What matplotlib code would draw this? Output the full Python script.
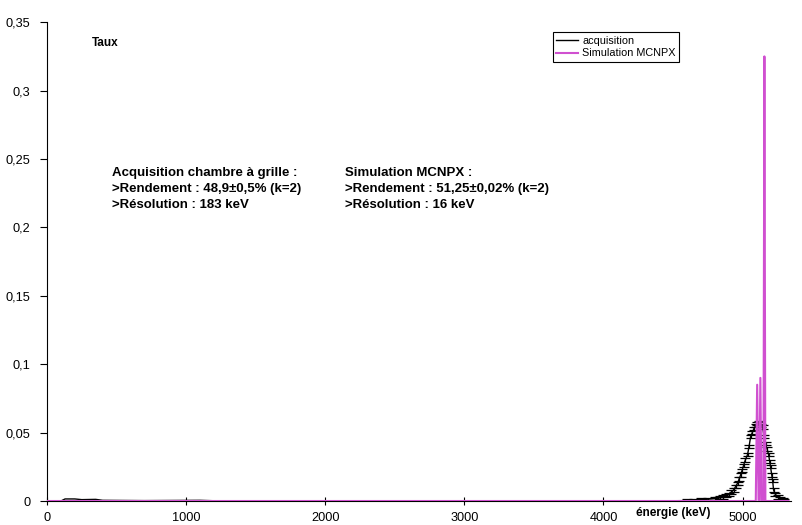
import matplotlib
matplotlib.use("Agg")
import matplotlib.pyplot as plt
from matplotlib.ticker import FuncFormatter

plt.rcParams['font.family'] = ['Liberation Sans', 'DejaVu Sans']

# Acquisition (chambre à grille) spectrum
acq_energy = [0, 100, 130, 200, 250, 350, 400, 700, 1100, 1200, 2000, 3000, 4000, 4500,
              4600, 4650, 4700, 4750, 4800, 4820, 4840, 4860, 4880, 4900, 4920, 4935,
              4950, 4964, 4975, 4986, 4997, 5007, 5020, 5036, 5047, 5058, 5070, 5082,
              5094, 5105, 5115, 5125, 5135, 5144, 5155, 5165, 5176, 5187, 5195, 5201,
              5210, 5216, 5223, 5235, 5252, 5270, 5288, 5300]
acq_rate = [0.0, 0.0, 0.0015, 0.0015, 0.001, 0.0012, 0.0005, 0.0003, 0.0005, 0.0002, 0.0002,
            0.0002, 0.0002, 0.0002,
            0.0003, 0.0005, 0.001, 0.0013, 0.0018, 0.002, 0.0025, 0.003, 0.004, 0.005,
            0.0065, 0.008, 0.0105, 0.013, 0.016, 0.019, 0.0225, 0.026, 0.030, 0.034,
            0.040, 0.047, 0.050, 0.053, 0.055, 0.0565, 0.057, 0.0565, 0.055, 0.054,
            0.047, 0.042, 0.038, 0.034, 0.029, 0.025, 0.019, 0.015, 0.008, 0.005,
            0.003, 0.0015, 0.001, 0.0005]
acq_err = 0.0012

# MCNPX simulation spectrum
sim_energy = [0, 5095, 5105, 5115, 5120, 5128, 5136, 5150, 5157, 5164, 5330]
sim_rate = [0.0, 0.0, 0.085, 0.0, 0.0, 0.09, 0.0, 0.0, 0.325, 0.0, 0.0]

x_ticks = [0, 1000, 2000, 3000, 4000, 5000]
y_ticks = [0, 0.05, 0.1, 0.15, 0.2, 0.25, 0.3, 0.35]

fig = plt.figure(figsize=(8.03, 5.25), dpi=100)
ax = fig.add_axes([0.0585, 0.0457, 0.926, 0.912])

err_mask = [e >= 4600 for e in acq_energy]
ax.plot(acq_energy, acq_rate, color='black', lw=1.0, label='acquisition', zorder=3)
ax.errorbar([e for e, m in zip(acq_energy, err_mask) if m],
            [r for r, m in zip(acq_rate, err_mask) if m],
            yerr=acq_err, fmt='none', ecolor='black', elinewidth=0.9,
            capsize=3.5, capthick=0.9, zorder=3)
ax.plot(sim_energy, sim_rate, color='#d050d0', lw=1.5, label='Simulation MCNPX', zorder=4)

ax.set_xlim(0, 5345)
ax.set_ylim(0, 0.35)
ax.set_xticks(x_ticks)
ax.set_yticks(y_ticks)
ax.yaxis.set_major_formatter(FuncFormatter(lambda v, p: ('%g' % v).replace('.', ',')))
for s in ['top', 'right']:
    ax.spines[s].set_visible(False)
ax.tick_params(axis='x', direction='inout', length=6, labelsize=9.2, pad=5)
ax.tick_params(axis='y', direction='out', length=5, labelsize=9.2, pad=7)

ax.text(324, 0.335, 'Taux', fontsize=8.5, fontweight='bold', ha='left', va='center')
ax.text(4505, -0.025, 'énergie (keV)', fontsize=8.5, fontweight='bold', ha='center',
        va='center', transform=ax.get_xaxis_transform())

ax.text(468, 0.228, 'Acquisition chambre à grille :\n>Rendement : 48,9±0,5% (k=2)\n>Résolution : 183 keV',
        fontsize=9.5, fontweight='bold', ha='left', va='center', linespacing=1.45)
ax.text(2144, 0.228, 'Simulation MCNPX :\n>Rendement : 51,25±0,02% (k=2)\n>Résolution : 16 keV',
        fontsize=9.5, fontweight='bold', ha='left', va='center', linespacing=1.45)

leg = ax.legend(loc='upper left', bbox_to_anchor=(0.673, 0.99), fontsize=7.8,
                handlelength=2.0, handletextpad=0.4, borderpad=0.3, labelspacing=0.25,
                fancybox=False, framealpha=1, edgecolor='black')
leg.get_frame().set_linewidth(0.8)

fig.savefig('out.png', dpi=100)
